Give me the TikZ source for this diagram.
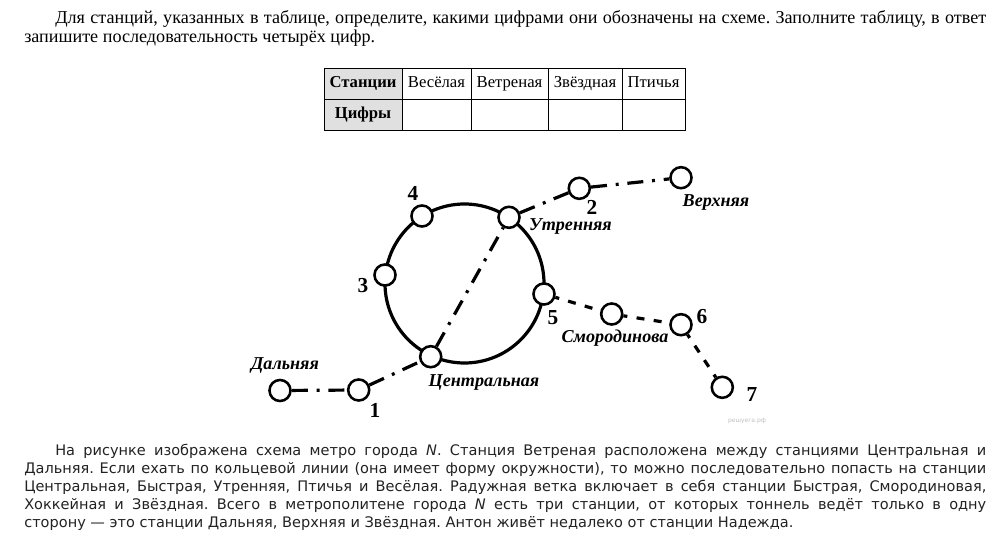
\documentclass[tikz,border=0pt]{standalone}
\usepackage{xcolor}
\usepackage{fontspec}
\usepackage{tikz}
\setmainfont{Liberation Serif}
\newfontfamily\verdanafont{DejaVu Sans}
\definecolor{cellgray}{HTML}{E0E0E0}
\definecolor{textgray}{HTML}{222222}
\frenchspacing
\tikzset{
  station/.style={draw, circle, line width=1.9pt, minimum size=15.8pt, inner sep=0pt, fill=white},
  ringline/.style={draw, circle, line width=2.4pt, minimum size=119.25pt, inner sep=0pt},
  dashdotline/.style={line width=2.4pt, dash pattern=on 12pt off 6.6pt on 2.2pt off 6.6pt},
  dashline/.style={line width=2.4pt, dash pattern=on 6pt off 7pt, dash phase=3pt},
  stationlabel/.style={font=\fontsize{13.6}{15}\selectfont\bfseries\itshape, inner sep=0pt},
  digitlabel/.style={font=\fontsize{16}{17}\selectfont\bfseries, inner sep=0pt},
  tablecell/.style={draw, rectangle, line width=0.75pt, minimum height=23.25pt, inner sep=0pt, text height=8.5pt, text depth=2.5pt, font=\fontsize{12.5}{14}\selectfont},
  headcell/.style={tablecell, fill=cellgray, font=\fontsize{12.5}{14}\selectfont\bfseries},
  toptext/.style={anchor=north west, inner sep=0pt, text width=721.5pt, align=justify, font=\fontsize{13.6}{14.25}\selectfont, text=black},
  bottomtext/.style={anchor=north west, inner sep=0pt, text width=721.5pt, align=justify, font=\verdanafont\fontsize{10.9}{13.5}\selectfont, text=textgray}
}
\begin{document}
\begin{tikzpicture}[x=0.75pt, y=-0.75pt]%
\useasboundingbox (0, 0) rectangle (1007, 545);%
\node[toptext] (intro) at (24, 10.5) {\hspace*{23.25pt}Для станций, указанных в таблице, определите, какими цифрами они обозначены на схеме. Заполните таблицу, в ответ\linebreak запишите последовательность четырёх цифр.};%
\node[headcell, minimum width=58.5pt] (headstations) at (363, 84) {Станции};%
\node[tablecell, minimum width=51.75pt] (cellvesel) at (436.5, 84) {Весёлая};%
\node[tablecell, minimum width=57.75pt] (cellvetr) at (509.5, 84) {Ветреная};%
\node[tablecell, minimum width=55.5pt] (cellzvezd) at (585, 84) {Звёздная};%
\node[tablecell, minimum width=47.25pt] (cellptich) at (653.5, 84) {Птичья};%
\node[headcell, minimum width=58.5pt] (headdigits) at (363, 115) {Цифры};%
\node[tablecell, minimum width=51.75pt] (digitvesel) at (436.5, 115) {};%
\node[tablecell, minimum width=57.75pt] (digitvetr) at (509.5, 115) {};%
\node[tablecell, minimum width=55.5pt] (digitzvezd) at (585, 115) {};%
\node[tablecell, minimum width=47.25pt] (digitptich) at (653.5, 115) {};%
\node[ringline] (ring) at (464.5, 283.5) {};%
\node[station] (dalnyaya) at (280, 390.5) {};%
\node[station] (stone) at (358.7, 390) {};%
\node[station] (central) at (430.7, 356.7) {};%
\node[station] (stthree) at (385, 275) {};%
\node[station] (stfour) at (422, 216) {};%
\node[station] (utren) at (509, 217.3) {};%
\node[station] (sttwo) at (579.3, 188.3) {};%
\node[station] (verkh) at (681, 177.7) {};%
\node[station] (stfive) at (544, 294) {};%
\node[station] (smorod) at (611.7, 314) {};%
\node[station] (stsix) at (681, 324.7) {};%
\node[station] (stseven) at (722.3, 387.3) {};%
\draw[dashdotline] (dalnyaya) -- (stone);%
\draw[dashdotline] (stone) -- (central);%
\draw[dashdotline] (central) -- (utren);%
\draw[dashdotline] (utren) -- (sttwo);%
\draw[dashdotline] (sttwo) -- (verkh);%
\draw[dashline] (stfive) -- (smorod);%
\draw[dashline] (smorod) -- (stsix);%
\draw[dashline] (stsix) -- (stseven);%
\node[stationlabel] (labdal) at (285, 365.5) {Дальняя};%
\node[stationlabel] (labverkh) at (716, 202) {Верхняя};%
\node[stationlabel] (labutren) at (570.5, 226.5) {Утренняя};%
\node[stationlabel] (labsmorod) at (615, 338) {Смородинова};%
\node[stationlabel] (labcentral) at (484, 382) {Центральная};%
\node[digitlabel] (numone) at (375, 410.5) {1};%
\node[digitlabel] (numtwo) at (592, 207) {2};%
\node[digitlabel] (numthree) at (363, 285.5) {3};%
\node[digitlabel] (numfour) at (413, 193.5) {4};%
\node[digitlabel] (numfive) at (553, 317.5) {5};%
\node[digitlabel] (numsix) at (702, 316.5) {6};%
\node[digitlabel] (numseven) at (752, 394.5) {7};%
\node[inner sep=0pt, text=black!25, font=\verdanafont\fontsize{4.5}{5}\selectfont] (mark) at (747, 421) {решуега.рф};%
\node[bottomtext] (story) at (24, 444) {\hspace*{23.25pt}На рисунке изображена схема метро города \textit{N}. Станция Ветреная расположена между станциями Центральная и\linebreak Дальняя. Если ехать по кольцевой линии (она имеет форму окружности), то можно последовательно попасть на станции\linebreak Центральная, Быстрая, Утренняя, Птичья и Весёлая. Радужная ветка включает в себя станции Быстрая, Смородиновая,\linebreak Хоккейная и Звёздная. Всего в метрополитене города \textit{N} есть три станции, от которых тоннель ведёт только в одну\linebreak сторону — это станции Дальняя, Верхняя и Звёздная. Антон живёт недалеко от станции Надежда.};%
\end{tikzpicture}
\end{document}
